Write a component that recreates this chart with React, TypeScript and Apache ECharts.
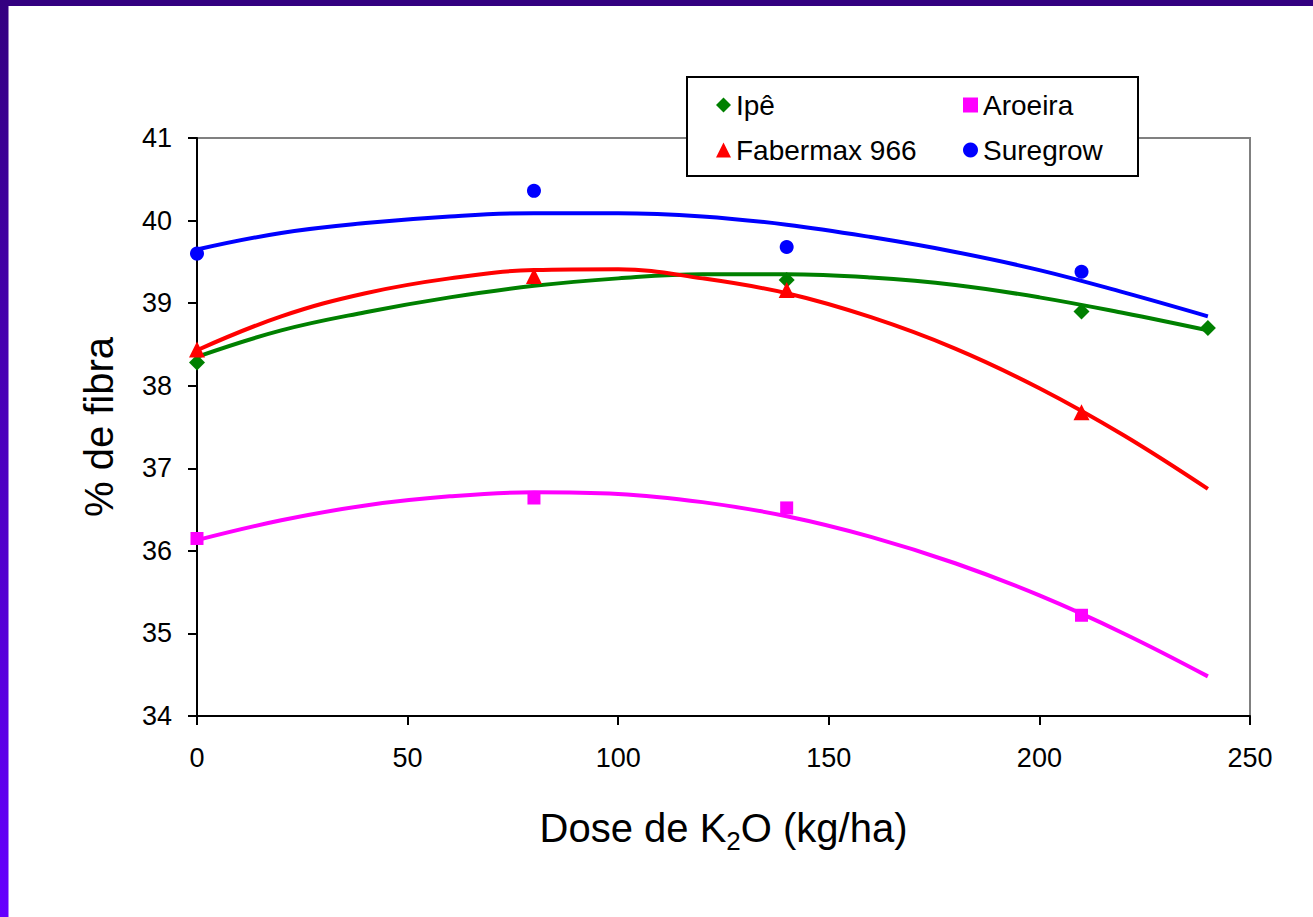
import React, { useEffect, useRef } from "react";
import * as echarts from "echarts";

const FONT = 'Arial, "Liberation Sans", Helvetica, sans-serif';

// Observed points (dose kg/ha, % fibra)
const ipeDose = [0, 140, 210, 240];
const ipeFibra = [38.28, 39.28, 38.9, 38.7];
const aroeiraDose = [0, 80, 140, 210];
const aroeiraFibra = [36.15, 36.64, 36.52, 35.22];
const fabermaxDose = [0, 80, 140, 210];
const fabermaxFibra = [38.44, 39.33, 39.16, 37.68];
const suregrowDose = [0, 80, 140, 210];
const suregrowFibra = [39.6, 40.36, 39.68, 39.38];

// Trend curves
const trendDose = [0, 20, 40, 60, 80, 100, 120, 140, 160, 180, 200, 220, 240];
const ipeTrend = [38.35, 38.67, 38.89, 39.07, 39.21, 39.3, 39.35, 39.35, 39.31, 39.22, 39.07, 38.88, 38.67];
const aroeiraTrend = [36.13, 36.37, 36.55, 36.66, 36.71, 36.69, 36.59, 36.42, 36.17, 35.85, 35.46, 35.0, 34.48];
const fabermaxTrend = [38.43, 38.84, 39.12, 39.3, 39.4, 39.41, 39.3, 39.12, 38.83, 38.45, 37.97, 37.4, 36.75];
const suregrowTrend = [39.65, 39.85, 39.97, 40.05, 40.09, 40.09, 40.05, 39.95, 39.8, 39.62, 39.4, 39.13, 38.84];

const xTicks = { min: 0, max: 250, interval: 50 };
const yTicks = { min: 34, max: 41, interval: 1 };

const seriesDefs = [
  { name: "Ipê", color: "#008000", symbol: "diamond", size: 16, dose: ipeDose, val: ipeFibra, trend: ipeTrend },
  { name: "Aroeira", color: "#ff00ff", symbol: "rect", size: 13, dose: aroeiraDose, val: aroeiraFibra, trend: aroeiraTrend },
  { name: "Fabermax 966", color: "#ff0000", symbol: "triangle", size: 16, dose: fabermaxDose, val: fabermaxFibra, trend: fabermaxTrend },
  { name: "Suregrow", color: "#0000ff", symbol: "circle", size: 14, dose: suregrowDose, val: suregrowFibra, trend: suregrowTrend },
];

const zip = (a: number[], b: number[]) => a.map((v, i) => [v, b[i]]);

export default function App() {
  const ref = useRef<HTMLDivElement>(null);
  useEffect(() => {
    document.body.style.margin = "0";
    if (!ref.current) return;
    const chart = echarts.init(ref.current, null, { renderer: "svg" });
    const scatters = seriesDefs.map((s) => ({
      name: s.name,
      type: "scatter",
      data: zip(s.dose, s.val),
      symbol: s.symbol,
      symbolSize: s.size,
      itemStyle: { color: s.color, opacity: 1 },
      z: 4,
    }));
    const lines = seriesDefs.map((s) => ({
      name: s.name,
      type: "line",
      data: zip(trendDose, s.trend),
      smooth: 0.4,
      showSymbol: false,
      symbol: "none",
      lineStyle: { color: s.color, width: 4, opacity: 1 },
      itemStyle: { color: s.color },
      z: 3,
    }));
    const legendCommon = {
      orient: "vertical",
      top: 86,
      itemGap: 17,
      itemWidth: 15,
      itemHeight: 15,
      selectedMode: false,
      z: 10,
      textStyle: { fontSize: 28, fontFamily: FONT, color: "#000", lineHeight: 28 },
    };
    chart.setOption({
      animation: false,
      backgroundColor: "#ffffff",
      textStyle: { fontFamily: FONT },
      grid: {
        left: 197,
        top: 138,
        right: 63,
        bottom: 201,
        show: true,
        borderColor: "#808080",
        borderWidth: 2,
        backgroundColor: "transparent",
      },
      xAxis: {
        type: "value",
        ...xTicks,
        name: "{m|Dose de K}{sub|2}{m|O (kg/ha)}",
        nameLocation: "middle",
        nameGap: 92,
        nameTextStyle: {
          fontSize: 40,
          fontFamily: FONT,
          color: "#000",
          rich: {
            m: { fontSize: 40, fontFamily: FONT, color: "#000", lineHeight: 40, verticalAlign: "top" },
            sub: { fontSize: 26, fontFamily: FONT, color: "#000", lineHeight: 26, verticalAlign: "top", padding: [20, 0, 0, 0] },
          },
        },
        axisLine: { show: true, lineStyle: { color: "#000", width: 2 } },
        axisTick: { show: true, length: 9, lineStyle: { color: "#000", width: 2 } },
        axisLabel: { fontSize: 27, fontFamily: FONT, color: "#000", margin: 28 },
        splitLine: { show: false },
      },
      yAxis: {
        type: "value",
        ...yTicks,
        name: "% de fibra",
        nameLocation: "middle",
        nameGap: 78,
        nameTextStyle: { fontSize: 40, fontFamily: FONT, color: "#000" },
        axisLine: { show: true, lineStyle: { color: "#000", width: 2 } },
        axisTick: { show: true, length: 9, lineStyle: { color: "#000", width: 2 } },
        axisLabel: { fontSize: 27, fontFamily: FONT, color: "#000", margin: 25 },
        splitLine: { show: false },
      },
      legend: [
        {
          ...legendCommon,
          left: 711,
          data: [
            { name: "Ipê", icon: "diamond" },
            { name: "Fabermax 966", icon: "triangle" },
          ],
        },
        {
          ...legendCommon,
          left: 958,
          data: [
            { name: "Aroeira", icon: "rect" },
            { name: "Suregrow", icon: "circle" },
          ],
        },
      ],
      graphic: [
        { type: "rect", z: 20, shape: { x: 0, y: 0, width: 1313, height: 6 }, style: { fill: "#330080" } },
        {
          type: "rect",
          z: 20,
          shape: { x: 0, y: 0, width: 8.5, height: 917 },
          style: {
            fill: new echarts.graphic.LinearGradient(0, 0, 0, 1, [
              { offset: 0, color: "#330080" },
              { offset: 1, color: "#6600ff" },
            ]),
          },
        },
        {
          type: "rect",
          z: 5,
          shape: { x: 687, y: 77, width: 451, height: 99 },
          style: { fill: "#ffffff", stroke: "#000000", lineWidth: 2 },
        },
      ],
      series: [...scatters, ...lines],
    });
    return () => chart.dispose();
  }, []);
  return <div ref={ref} style={{ width: 1313, height: 917 }} />;
}
